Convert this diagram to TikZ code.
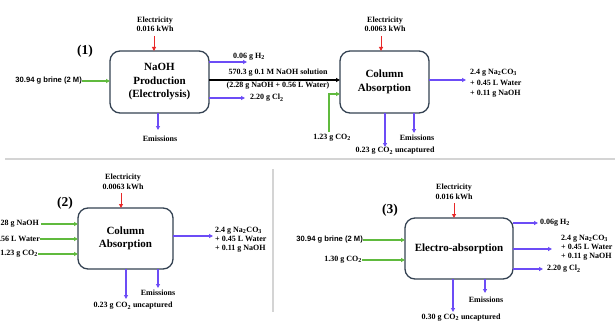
\documentclass[tikz,border=0pt]{standalone}
\usepackage{fontspec}
\setmainfont{Liberation Serif}
\newfontfamily\sansf{Liberation Sans}
\usetikzlibrary{arrows.meta}
\definecolor{flowblue}{RGB}{108,76,246}
\definecolor{flowgreen}{RGB}{96,186,62}
\definecolor{flowred}{RGB}{232,40,40}
\definecolor{boxline}{RGB}{52,66,82}
\definecolor{sepgray}{RGB}{212,212,212}
\tikzset{
  unit/.style={draw=boxline, line width=1.3pt, rounded corners=10pt, inner sep=0pt, outer sep=0pt,
    font=\bfseries\fontsize{11}{13.5}\selectfont, align=center},
  lbl/.style={font=\bfseries\fontsize{8}{9.5}\selectfont, inner sep=0pt, align=center},
  lbll/.style={lbl, align=left},
  sanslbl/.style={font=\sansf\bfseries\fontsize{7.6}{9}\selectfont, inner sep=0pt},
  tag/.style={font=\bfseries\fontsize{13.5}{15}\selectfont, inner sep=0pt},
  tip/.style={-{Triangle[length=4pt,width=4pt]}},
  powerflow/.style={tip, draw=flowred, line width=1pt},
  outflow/.style={tip, draw=flowblue, line width=1.3pt},
  inflow/.style={tip, draw=flowgreen, line width=1.2pt},
  mainflow/.style={tip, draw=black, line width=1.2pt},
  sep/.style={draw=sepgray, line width=1.2pt}
}
\begin{document}
\begin{tikzpicture}[x=1pt, y=-1pt]
\useasboundingbox (0,0) rectangle (615,321);

% separators
\draw[sep] (5,159) -- (615,159);
\draw[sep] (273,169) -- (273,312);

% ---------------- (1) electrolysis followed by column absorption
\node[tag] (t1) at (85,51) {(1)};
\node[unit, minimum width=99pt, minimum height=62pt] (b1) at (159.5,82)
  {NaOH\\Production\\(Electrolysis)};
\node[lbl] (e1) at (155,24.5) {Electricity\\0.016 kWh};
\coordinate (e1s) at (154,36);
\draw[powerflow] (e1s) -- (e1s |- b1.north);

\node[sanslbl, anchor=east] (br1) at (82,81) {30.94 g brine (2 M)};
\draw[inflow] (br1.east) -- (br1.east -| b1.west);

\coordinate (h2a) at (247,62);
\draw[outflow] (b1.east |- h2a) -- (h2a);
\node[lbl, anchor=west] (h2l) at (233,57) {0.06 g H\textsubscript{2}};

\coordinate (cl2a) at (245,98);
\draw[outflow] (b1.east |- cl2a) -- (cl2a);
\node[lbl, anchor=west] (cl2l) at (250,98) {2.20 g Cl\textsubscript{2}};

\coordinate (em1a) at (158,130);
\draw[outflow] (em1a |- b1.south) -- (em1a);
\node[lbl] (em1) at (160,139) {Emissions};

\node[unit, minimum width=89pt, minimum height=62pt] (c1) at (384.5,82)
  {Column\\Absorption};
\coordinate (nao) at (0,80);
\draw[mainflow] (b1.east |- nao) -- (c1.west |- nao);
\node[lbl] (naol) at (278,73) {570.3 g 0.1 M NaOH solution};
\node[lbl] (naow) at (278,86) {(2.28 g NaOH + 0.56 L Water)};

\node[lbl] (e2) at (385,24.5) {Electricity\\0.0063 kWh};
\coordinate (e2s) at (381,36);
\draw[powerflow] (e2s) -- (e2s |- c1.north);

\coordinate (p1a) at (466,80);
\draw[outflow] (c1.east |- p1a) -- (p1a);
\node[lbll, font=\bfseries\fontsize{8}{10.5}\selectfont, anchor=west] (p1)
  at (470,83.5) {2.4 g Na\textsubscript{2}CO\textsubscript{3}\\+ 0.45 L Water\\+ 0.11 g NaOH};

\node[lbl] (co1) at (332,138) {1.23 g CO\textsubscript{2}};
\coordinate (co1a) at (329,132);
\coordinate (co1b) at (329,94);
\draw[inflow] (co1a) -- (co1b) -- (co1b -| c1.west);

\coordinate (u1a) at (385,147);
\draw[outflow] (u1a |- c1.south) -- (u1a);
\node[lbl] (u1) at (395,151) {0.23 g CO\textsubscript{2} uncaptured};

\coordinate (em2a) at (414,133);
\draw[outflow] (em2a |- c1.south) -- (em2a);
\node[lbl] (em2) at (417,137.5) {Emissions};

% ---------------- (2) column absorption alone
\node[tag] (t2) at (65,203) {(2)};
\node[unit, minimum width=95pt, minimum height=61pt] (c2) at (125.5,238.5)
  {Column\\Absorption};
\node[lbl] (e3) at (123,182) {Electricity\\0.0063 kWh};
\coordinate (e3s) at (121,193);
\draw[powerflow] (e3s) -- (e3s |- c2.north);

\node[lbl, anchor=east] (in1) at (39,224) {28 g NaOH};
\node[lbl, anchor=east] (in2) at (40,239) {.56 L Water};
\node[lbl, anchor=east] (in3) at (38,254) {1.23 g CO\textsubscript{2}};
\draw[inflow] (41,224) -- (in1.east -| c2.west);
\draw[inflow] (in2.east) -- (in2.east -| c2.west);
\draw[inflow] (in3.east) -- (in3.east -| c2.west);

\coordinate (p2a) at (213,236);
\draw[outflow] (c2.east |- p2a) -- (p2a);
\node[lbll, font=\bfseries\fontsize{8}{9}\selectfont, anchor=west] (p2)
  at (215,240) {2.4 g Na\textsubscript{2}CO\textsubscript{3}\\+ 0.45 L Water\\+ 0.11 g NaOH};

\coordinate (u2a) at (126,299);
\draw[outflow] (u2a |- c2.south) -- (u2a);
\node[lbl] (u2) at (133,306) {0.23 g CO\textsubscript{2} uncaptured};

\coordinate (em3a) at (158,288);
\draw[outflow] (em3a |- c2.south) -- (em3a);
\node[lbl] (em3) at (158,292.5) {Emissions};

% ---------------- (3) electro-absorption
\node[tag] (t3) at (390,210) {(3)};
\node[unit, minimum width=108pt, minimum height=61pt] (x3) at (459,248.5)
  {Electro-absorption};
\node[lbl] (e4) at (454,192) {Electricity\\0.016 kWh};
\coordinate (e4s) at (454,203);
\draw[powerflow] (e4s) -- (e4s |- x3.north);

\node[sanslbl, anchor=east] (br3) at (363,240) {30.94 g brine (2 M)};
\draw[inflow] (br3.east) -- (br3.east -| x3.west);
\node[lbl, anchor=east] (co3) at (362,260) {1.30 g CO\textsubscript{2}};
\draw[inflow] (co3.east) -- (co3.east -| x3.west);

\coordinate (h2b) at (538,223);
\draw[outflow] (x3.east |- h2b) -- (h2b);
\node[lbl, anchor=west] (h2m) at (540,223) {0.06g H\textsubscript{2}};

\coordinate (p3a) at (552,249);
\draw[outflow] (x3.east |- p3a) -- (p3a);
\node[lbll, font=\bfseries\fontsize{8}{9}\selectfont, anchor=west] (p3)
  at (561,248) {2.4 g Na\textsubscript{2}CO\textsubscript{3}\\+ 0.45 L Water\\+ 0.11 g NaOH};

\coordinate (cl2b) at (543,269);
\draw[outflow] (x3.east |- cl2b) -- (cl2b);
\node[lbl, anchor=west] (cl2m) at (547,269) {2.20 g Cl\textsubscript{2}};

\coordinate (u3a) at (453,312);
\draw[outflow] (u3a |- x3.south) -- (u3a);
\node[lbl] (u3) at (461,317.5) {0.30 g CO\textsubscript{2} uncaptured};

\coordinate (em4a) at (485,293);
\draw[outflow] (em4a |- x3.south) -- (em4a);
\node[lbl] (em4) at (486,300) {Emissions};
\end{tikzpicture}
\end{document}
